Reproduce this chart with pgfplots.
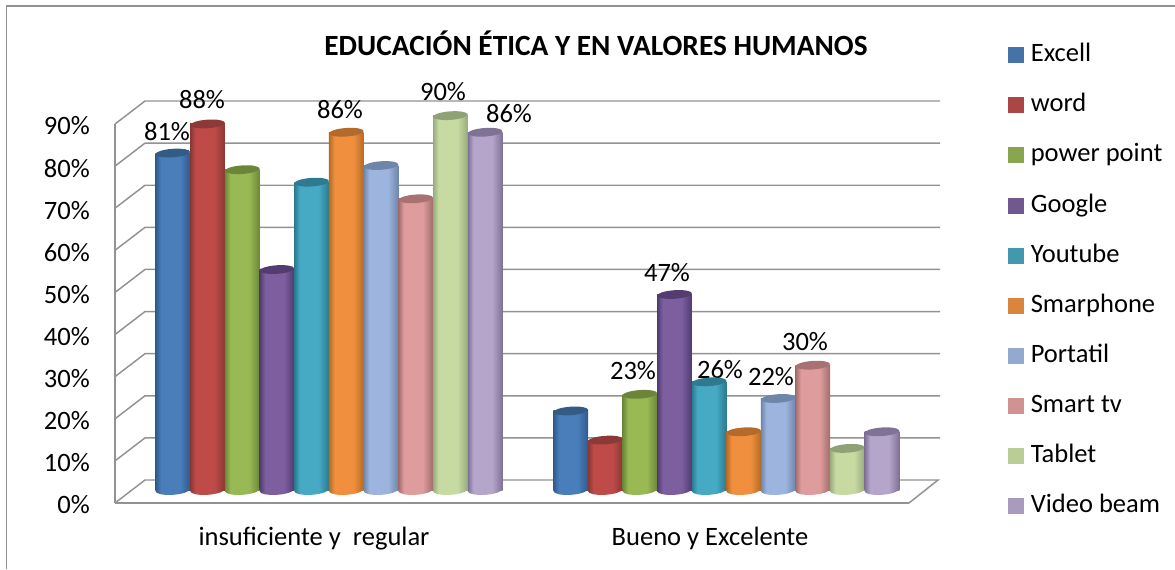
\documentclass[border=0pt]{standalone}
\usepackage{fontspec}
\setmainfont{Carlito}
\usepackage{pgfplots}
\pgfplotsset{compat=1.18}
\definecolor{gridc}{HTML}{929292}
\newcommand\defbar[5]{%
  \definecolor{d#1}{HTML}{#2}\definecolor{m#1}{HTML}{#3}\definecolor{c#1}{HTML}{#4}\definecolor{s#1}{HTML}{#5}%
  \pgfdeclarehorizontalshading{bar#1}{100bp}{color(0bp)=(d#1);color(25bp)=(d#1);color(33bp)=(m#1);color(60bp)=(m#1);color(75bp)=(d#1);color(100bp)=(d#1)}%
  \pgfdeclareplotmark{cap#1}{\pgftransformrotate{4}\pgfpathellipse{\pgfpointorigin}{\pgfqpoint{13pt}{0pt}}{\pgfqpoint{0pt}{3.2pt}}\pgfsetfillcolor{c#1}\pgfusepath{fill}}%
  \pgfdeclareplotmark{bot#1}{\pgftransformrotate{4}\pgfpathellipse{\pgfpointorigin}{\pgfqpoint{13pt}{0pt}}{\pgfqpoint{0pt}{3.6pt}}\pgfshadepath{bar#1}{0}\pgfusepath{discard}}%
}
\defbar{A}{2F5A8C}{4A7EBB}{335C85}{4572A7}
\defbar{B}{8A3735}{BE4B48}{8C3A38}{AA4643}
\defbar{C}{6B8838}{98B954}{6D8539}{89A54E}
\defbar{D}{4F3A70}{7D5FA0}{553C70}{71588F}
\defbar{E}{2A7A8E}{46AAC5}{2F7A90}{4198AF}
\defbar{F}{B56A25}{F0903F}{B36A2A}{DB843D}
\defbar{G}{6E86AC}{9DB5DE}{6F86AB}{93A9CF}
\defbar{H}{A06C6C}{DF9C9C}{A97272}{D19392}
\defbar{I}{98AC7C}{C6DAA2}{8EA276}{B9CD96}
\defbar{J}{7F7096}{B5A5CA}{7F7294}{A99BBD}
\newcommand\lfont{\fontsize{19.9}{24}\selectfont}
\tikzset{lab/.style={font=\lfont,inner sep=0pt}}
\pgfplotsset{wall/.style={gridc,line width=1.1pt,mark=none,forget plot},
  swatch/.style={legend image code/.code={\fill[#1] (0pt,-5.6pt) rectangle (11.25pt,5.6pt);\path (16.5pt,0pt);}}}
\begin{document}
\begin{tikzpicture}
\useasboundingbox (-86.25pt,-49.5pt) rectangle (795pt,377.25pt);
\draw[gridc,line width=1.1pt] (-81.375pt,-49.5pt) -- (-81.375pt,372.75pt) -- (795pt,372.75pt);
% axis with the scale and the wall
\begin{axis}[at={(0,0)},anchor=south west,scale only axis,width=595.5pt,height=284.25pt,
  xmin=115,xmax=909,ymin=0,ymax=90,clip=false,
  axis x line=bottom,axis y line=left,axis line style={gridc,line width=1.1pt,-},
  xtick={314,710},xticklabels={insuficiente y\ \ regular,Bueno y Excelente},
  ytick={0,10,...,90},yticklabels={0\%,10\%,20\%,30\%,40\%,50\%,60\%,70\%,80\%,90\%},
  major tick length=0pt,
  tick label style={font=\lfont},
  yticklabel style={inner sep=0pt,xshift=-18.75pt,yshift=-1.5pt},
  xticklabel style={inner sep=0pt,yshift=-17.75pt},
]
\addplot[wall] coordinates {(115,0)(145,5.46)(938,5.46)(909,0)};
\addplot[wall] coordinates {(115,10)(145,15.46)(940,15.46)};
\addplot[wall] coordinates {(115,20)(145,25.46)(940,25.46)};
\addplot[wall] coordinates {(115,30)(145,35.46)(940,35.46)};
\addplot[wall] coordinates {(115,40)(145,45.46)(940,45.46)};
\addplot[wall] coordinates {(115,50)(145,55.46)(940,55.46)};
\addplot[wall] coordinates {(115,60)(145,65.46)(940,65.46)};
\addplot[wall] coordinates {(115,70)(145,75.46)(940,75.46)};
\addplot[wall] coordinates {(115,80)(145,85.46)(940,85.46)};
\addplot[wall] coordinates {(115,90)(145,95.46)(940,95.46)};
\end{axis}
% axis with the bars
\begin{axis}[at={(0,0)},anchor=south west,scale only axis,width=595.5pt,height=372.75pt,
  xmin=115,xmax=909,ymin=-3.125,ymax=116.35,clip=false,axis lines=none,
  title={\fontsize{22}{26}\selectfont\textbf{EDUCACIÓN ÉTICA Y EN VALORES HUMANOS}},
  title style={at={(0.6058,0.9095)},anchor=center,inner sep=0pt},
  legend style={at={(axis cs:1004,116.35)},anchor=north west,draw=none,fill=none,
    yshift=-25.5pt,font=\lfont,row sep=19.6pt,
    nodes={inner sep=0pt,text height=14pt,text depth=4pt,anchor=west}},
  legend cell align=left,
  bar width=26.03pt,bar shift=0pt,
]
% Excell
\addplot[forget plot,only marks,mark=botA] coordinates {(172.85,0)(570.8,0)};
\addplot[forget plot,ybar,draw=none,shade,shading=barA] coordinates {(172.85,81)};
\addplot[forget plot,ybar,draw=none,shade,shading=barA] coordinates {(570.8,19)};
\addplot[forget plot,only marks,mark=capA] coordinates {(172.85,81)(570.8,19)};
% word
\addplot[forget plot,only marks,mark=botB] coordinates {(207.55,0)(605.4,0)};
\addplot[forget plot,ybar,draw=none,shade,shading=barB] coordinates {(207.55,88)};
\addplot[forget plot,ybar,draw=none,shade,shading=barB] coordinates {(605.4,12)};
\addplot[forget plot,only marks,mark=capB] coordinates {(207.55,88)(605.4,12)};
% power point
\addplot[forget plot,only marks,mark=botC] coordinates {(242.25,0)(639.9,0)};
\addplot[forget plot,ybar,draw=none,shade,shading=barC] coordinates {(242.25,77)};
\addplot[forget plot,ybar,draw=none,shade,shading=barC] coordinates {(639.9,23)};
\addplot[forget plot,only marks,mark=capC] coordinates {(242.25,77)(639.9,23)};
% Google
\addplot[forget plot,only marks,mark=botD] coordinates {(276.95,0)(674.5,0)};
\addplot[forget plot,ybar,draw=none,shade,shading=barD] coordinates {(276.95,53)};
\addplot[forget plot,ybar,draw=none,shade,shading=barD] coordinates {(674.5,47)};
\addplot[forget plot,only marks,mark=capD] coordinates {(276.95,53)(674.5,47)};
% Youtube
\addplot[forget plot,only marks,mark=botE] coordinates {(311.65,0)(709.1,0)};
\addplot[forget plot,ybar,draw=none,shade,shading=barE] coordinates {(311.65,74)};
\addplot[forget plot,ybar,draw=none,shade,shading=barE] coordinates {(709.1,26)};
\addplot[forget plot,only marks,mark=capE] coordinates {(311.65,74)(709.1,26)};
% Smarphone
\addplot[forget plot,only marks,mark=botF] coordinates {(346.35,0)(743.6,0)};
\addplot[forget plot,ybar,draw=none,shade,shading=barF] coordinates {(346.35,86)};
\addplot[forget plot,ybar,draw=none,shade,shading=barF] coordinates {(743.6,14)};
\addplot[forget plot,only marks,mark=capF] coordinates {(346.35,86)(743.6,14)};
% Portatil
\addplot[forget plot,only marks,mark=botG] coordinates {(381.05,0)(778.2,0)};
\addplot[forget plot,ybar,draw=none,shade,shading=barG] coordinates {(381.05,78)};
\addplot[forget plot,ybar,draw=none,shade,shading=barG] coordinates {(778.2,22)};
\addplot[forget plot,only marks,mark=capG] coordinates {(381.05,78)(778.2,22)};
% Smart tv
\addplot[forget plot,only marks,mark=botH] coordinates {(415.75,0)(812.8,0)};
\addplot[forget plot,ybar,draw=none,shade,shading=barH] coordinates {(415.75,70)};
\addplot[forget plot,ybar,draw=none,shade,shading=barH] coordinates {(812.8,30)};
\addplot[forget plot,only marks,mark=capH] coordinates {(415.75,70)(812.8,30)};
% Tablet
\addplot[forget plot,only marks,mark=botI] coordinates {(450.45,0)(847.3,0)};
\addplot[forget plot,ybar,draw=none,shade,shading=barI] coordinates {(450.45,90)};
\addplot[forget plot,ybar,draw=none,shade,shading=barI] coordinates {(847.3,10)};
\addplot[forget plot,only marks,mark=capI] coordinates {(450.45,90)(847.3,10)};
% Video beam
\addplot[forget plot,only marks,mark=botJ] coordinates {(485.15,0)(881.9,0)};
\addplot[forget plot,ybar,draw=none,shade,shading=barJ] coordinates {(485.15,86)};
\addplot[forget plot,ybar,draw=none,shade,shading=barJ] coordinates {(881.9,14)};
\addplot[forget plot,only marks,mark=capJ] coordinates {(485.15,86)(881.9,14)};
% data labels
\node[lab] at (axis cs:167,86.06) {81\%};
\node[lab] at (axis cs:202,93.87) {88\%};
\node[lab] at (axis cs:340,91.35) {86\%};
\node[lab] at (axis cs:443,95.67) {90\%};
\node[lab] at (axis cs:509,90.38) {86\%};
\node[lab] at (axis cs:667,52.16) {47\%};
\node[lab] at (axis cs:633,28.6) {23\%};
\node[lab] at (axis cs:720,28.85) {26\%};
\node[lab] at (axis cs:771,27.16) {22\%};
\node[lab] at (axis cs:805,35.58) {30\%};
% legend
\addlegendimage{swatch=sA}\addlegendentry{Excell}
\addlegendimage{swatch=sB}\addlegendentry{word}
\addlegendimage{swatch=sC}\addlegendentry{power point}
\addlegendimage{swatch=sD}\addlegendentry{Google}
\addlegendimage{swatch=sE}\addlegendentry{Youtube}
\addlegendimage{swatch=sF}\addlegendentry{Smarphone}
\addlegendimage{swatch=sG}\addlegendentry{Portatil}
\addlegendimage{swatch=sH}\addlegendentry{Smart tv}
\addlegendimage{swatch=sI}\addlegendentry{Tablet}
\addlegendimage{swatch=sJ}\addlegendentry{Video beam}
\end{axis}
\end{tikzpicture}
\end{document}
